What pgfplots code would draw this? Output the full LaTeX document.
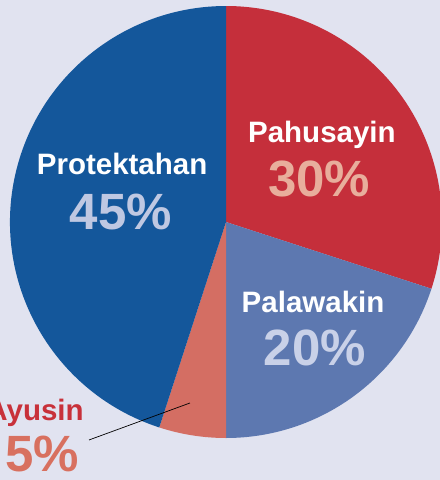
\documentclass[border=0pt]{standalone}
\usepackage{pgfplots}
\pgfplotsset{compat=1.18}
\usepackage{pgfplotstable}
\usepackage{fontspec}
\setmainfont{Liberation Sans}
\definecolor{bgc}{HTML}{E1E3F0}
\definecolor{slicecol0}{HTML}{C52F3B}
\definecolor{slicecol1}{HTML}{5D78B0}
\definecolor{slicecol2}{HTML}{D46E63}
\definecolor{slicecol3}{HTML}{14579B}
\definecolor{pc30}{HTML}{E8AE9C}
\definecolor{pc20}{HTML}{C9D1E8}
\definecolor{pc45}{HTML}{BFC8E2}
\definecolor{pc5}{HTML}{D8705F}
\definecolor{ayred}{HTML}{C8313A}
\pgfplotstableread{
label pct
Pahusayin 30
Palawakin 20
Ayusin 5
Protektahan 45
}\piedata
\newcommand\lbl{\fontsize{29.5bp}{31bp}\selectfont\bfseries}
\newcommand\pct{\fontsize{51bp}{53bp}\selectfont\bfseries}
\begin{document}
\begin{tikzpicture}
\fill[bgc] (0,0) rectangle (440bp,480bp);
\useasboundingbox (0,0) rectangle (440bp,480bp);
\begin{axis}[
  hide axis, scale only axis,
  x=216bp, y=216bp,
  xmin=-1.0463, xmax=0.9907, ymin=-1.1944, ymax=1.0278,
  at={(0,0)}, anchor=south west, clip=false,
]
\def\cum{0}
\pgfplotsforeachungrouped \i in {0,...,3}{%
  \pgfplotstablegetelem{\i}{pct}\of\piedata
  \pgfmathsetmacro\sa{90-3.6*\cum}%
  \pgfmathsetmacro\ea{90-3.6*(\cum+\pgfplotsretval)}%
  \pgfmathsetmacro\newcum{\cum+\pgfplotsretval}%
  \global\let\cum\newcum
  \pgfmathsetmacro\sx{cos(\sa)}%
  \pgfmathsetmacro\sy{sin(\sa)}%
  \edef\temp{\noexpand\fill[slicecol\i] (axis cs:0,0) -- (axis cs:\sx,\sy) arc[start angle=\sa, end angle=\ea, radius=216bp] -- cycle;}%
  \temp
}
\draw[black, line width=0.7pt] (axis cs:-0.634,-1.009) -- (axis cs:-0.167,-0.838);
\node[anchor=base, white, inner sep=0] at (axis cs:0.444,0.370) {\lbl Pahusayin};
\node[anchor=base, pc30, inner sep=0] at (axis cs:0.431,0.120) {\pct 30\%};
\node[anchor=base, white, inner sep=0] at (axis cs:-0.481,0.218) {\lbl Protektahan};
\node[anchor=base, pc45, inner sep=0] at (axis cs:-0.486,-0.037) {\pct 45\%};
\node[anchor=base, white, inner sep=0] at (axis cs:0.403,-0.421) {\lbl Palawakin};
\node[anchor=base, pc20, inner sep=0] at (axis cs:0.412,-0.662) {\pct 20\%};
\node[anchor=base, ayred, inner sep=0] at (axis cs:-0.884,-0.921) {\lbl Ayusin};
\node[anchor=base, pc5, inner sep=0] at (axis cs:-0.850,-1.157) {\pct 5\%};
\end{axis}
\end{tikzpicture}
\end{document}
